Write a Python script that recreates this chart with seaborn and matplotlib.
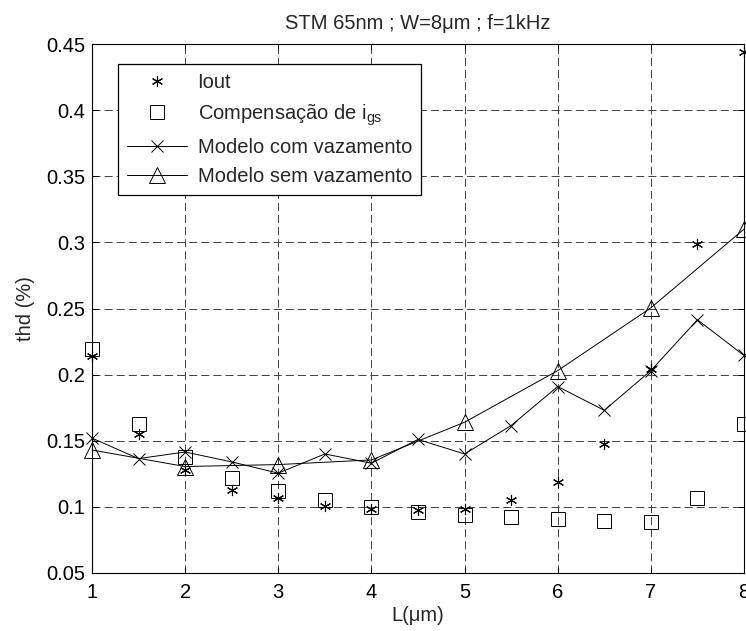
import numpy as np
import pandas as pd
import matplotlib
matplotlib.use("Agg")
import matplotlib.pyplot as plt
import seaborn as sns

# Channel length sweep (um)
L_all = [1.0, 1.5, 2.0, 2.5, 3.0, 3.5, 4.0, 4.5, 5.0, 5.5, 6.0, 6.5, 7.0, 7.5, 8.0]
L_int = [1, 2, 3, 4, 5, 6, 7, 8]

# THD (%) for each curve
iout = [0.214, 0.155, 0.128, 0.113, 0.107, 0.101, 0.0985, 0.098, 0.0985,
        0.105, 0.1185, 0.1475, 0.204, 0.299, 0.444]
comp_igs = [0.219, 0.163, 0.138, 0.122, 0.112, 0.105, 0.100, 0.096, 0.094,
            0.0925, 0.0905, 0.089, 0.0888, 0.107, 0.163]
modelo_com = [0.152, 0.1365, 0.1415, 0.134, 0.1255, 0.140, 0.133, 0.151,
              0.140, 0.1615, 0.191, 0.173, 0.203, 0.2415, 0.2145]
modelo_sem = [0.143, 0.1305, 0.132, 0.1355, 0.164, 0.203, 0.2505, 0.310]

labels = ["Iout", "Compensação de i$_{gs}$",
          "Modelo com vazamento", "Modelo sem vazamento"]
title = "STM 65nm ; W=8μm ; f=1kHz"
xlabel = "L(μm)"
ylabel = "thd (%)"
yticks = [0.05, 0.1, 0.15, 0.2, 0.25, 0.3, 0.35, 0.4, 0.45]
ytick_labels = ["0.05", "0.1", "0.15", "0.2", "0.25", "0.3", "0.35", "0.4", "0.45"]

sns.set_theme(style="white")
plt.rcParams["font.family"] = ["Liberation Sans", "DejaVu Sans"]
plt.rcParams["mathtext.fontset"] = "custom"
plt.rcParams["mathtext.rm"] = "Liberation Sans"
plt.rcParams["mathtext.it"] = "Liberation Sans"
plt.rcParams["lines.scale_dashes"] = False

FS = 14.5

df_all = pd.DataFrame({"L": L_all, "iout": iout, "comp": comp_igs, "com": modelo_com})
df_int = pd.DataFrame({"L": L_int, "sem": modelo_sem})

fig = plt.figure(figsize=(7.46, 6.31), dpi=100)
ax = fig.add_axes([92 / 746, 58 / 631, 652 / 746, 529 / 631])

sns.lineplot(data=df_all, x="L", y="iout", ax=ax, linestyle="", marker=(6, 2, 0),
             markersize=8, markeredgewidth=0.8, color="black",
             markeredgecolor="black", label=labels[0], clip_on=False)
sns.lineplot(data=df_all, x="L", y="comp", ax=ax, linestyle="", marker="s",
             markersize=9.5, markerfacecolor="none", markeredgewidth=0.7,
             color="black", markeredgecolor="black", label=labels[1], clip_on=False)
sns.lineplot(data=df_all, x="L", y="com", ax=ax, marker="x", markersize=8.5,
             markeredgewidth=0.7, linewidth=0.7, color="black",
             markeredgecolor="black", label=labels[2], clip_on=False)
sns.lineplot(data=df_int, x="L", y="sem", ax=ax, marker="^", markersize=12,
             markerfacecolor="none", markeredgewidth=0.7, linewidth=0.7,
             color="black", markeredgecolor="black", label=labels[3], clip_on=False)

ax.set_xlim(1, 8)
ax.set_ylim(0.05, 0.45)
ax.set_xticks(L_int)
ax.set_xticklabels([str(v) for v in L_int])
ax.set_yticks(yticks)
ax.set_yticklabels(ytick_labels)

ax.grid(True, color="0.25", linestyle=(0, (5.8, 2.9)), linewidth=0.7)
ax.set_axisbelow(True)
for s in ax.spines.values():
    s.set_visible(True)
    s.set_color("black")
    s.set_linewidth(0.8)
ax.tick_params(axis="both", which="both", direction="in", length=4.5, width=0.7,
               top=True, right=True, bottom=True, left=True,
               labelsize=FS, colors="black")
ax.tick_params(axis="x", pad=7)
ax.tick_params(axis="y", pad=5)

ax.set_title(title, fontsize=FS, pad=11)
ax.set_xlabel(xlabel, fontsize=FS, labelpad=3)
ax.set_ylabel(ylabel, fontsize=FS, labelpad=8)

leg = ax.legend(loc="upper left", bbox_to_anchor=(26 / 652, 1 - 20 / 529),
                borderaxespad=0, fontsize=FS, frameon=True, fancybox=False,
                shadow=False, framealpha=1, edgecolor="black",
                handlelength=3.0, handletextpad=0.5, labelspacing=0.5,
                borderpad=0.45)
leg.get_frame().set_linewidth(0.9)

fig.savefig("out.png", dpi=100)
